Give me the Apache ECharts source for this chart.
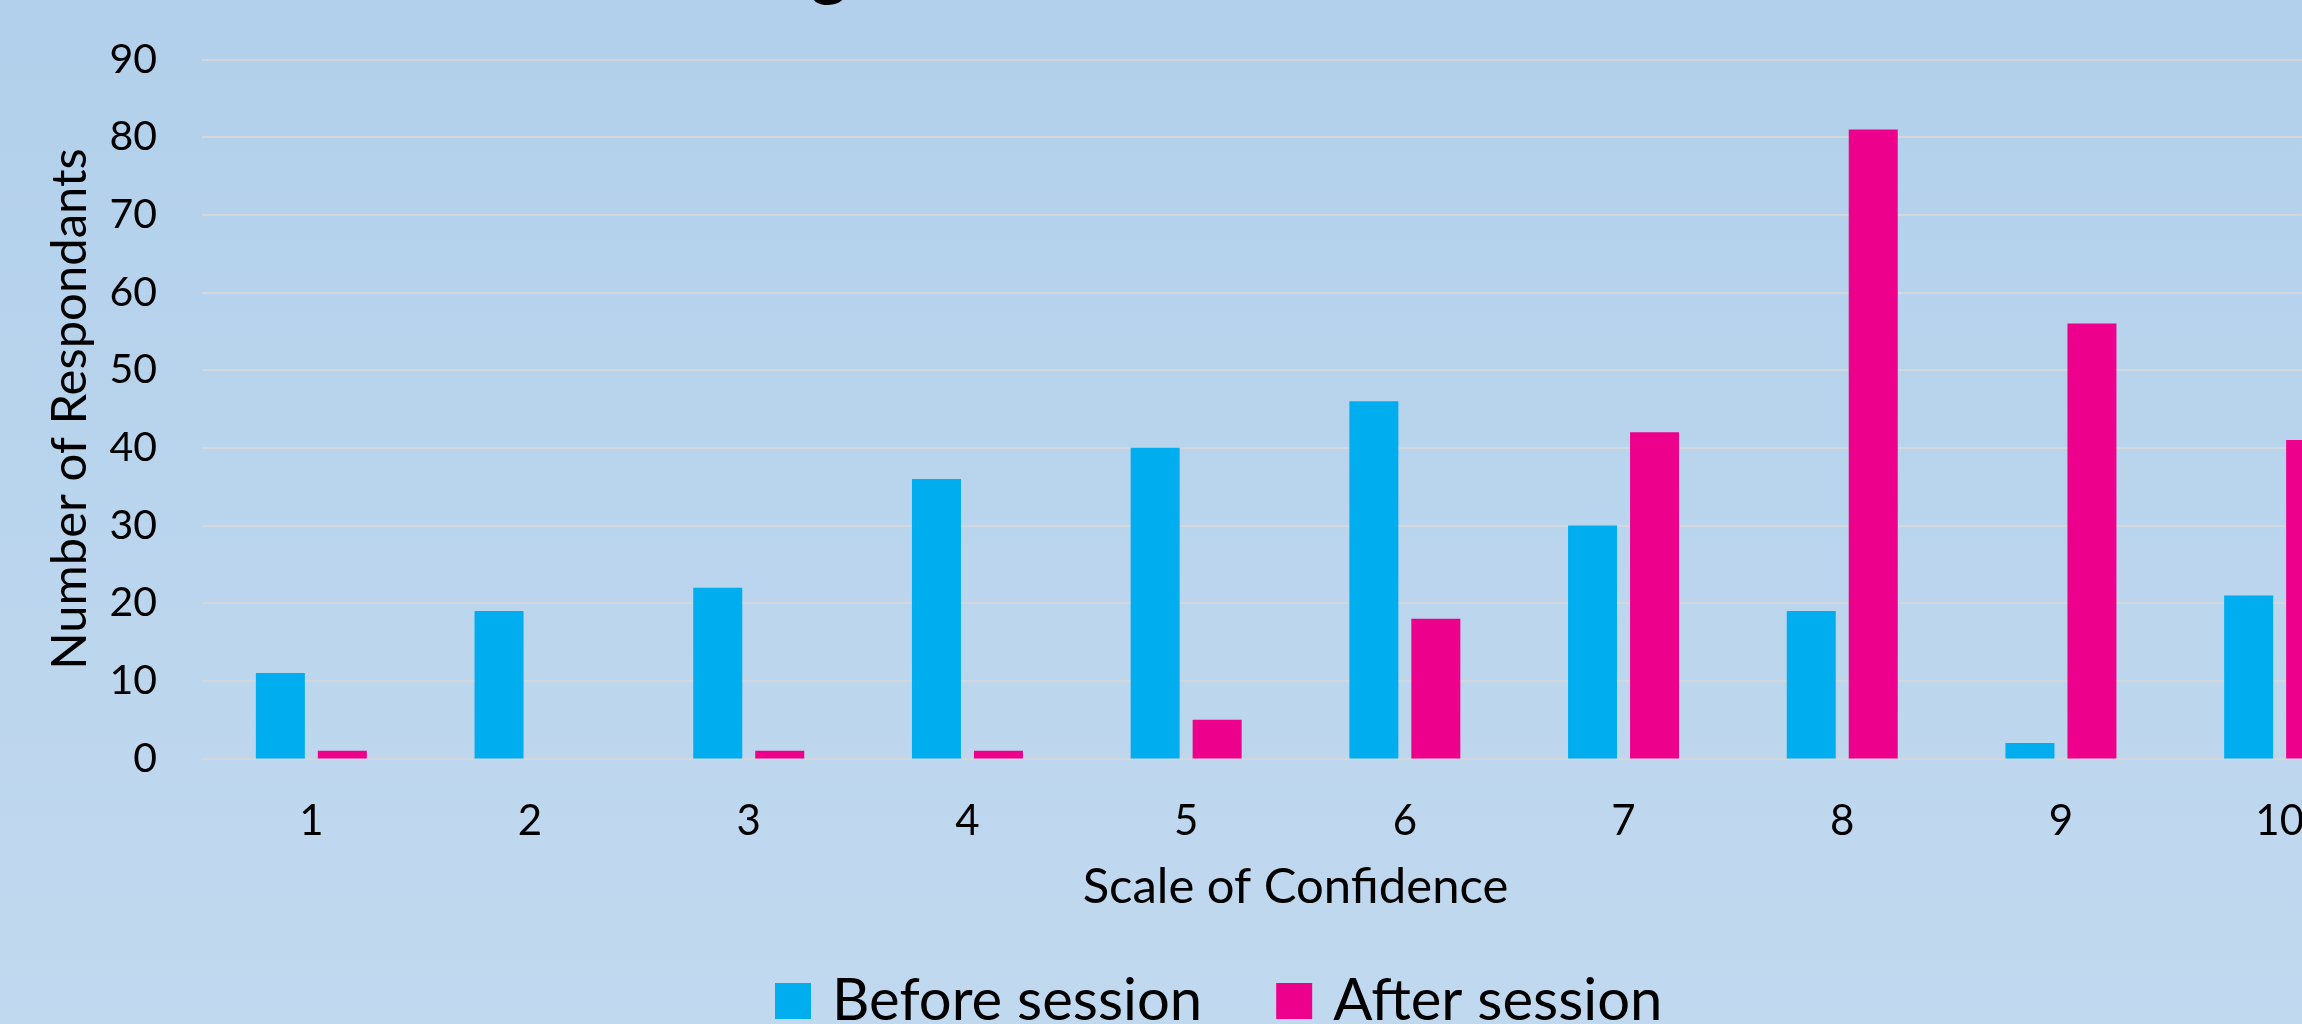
<!DOCTYPE html>
<html>
<head>
<meta charset="utf-8">
<title>Confidence Rating</title>
<script src="https://cdn.jsdelivr.net/npm/echarts@6/dist/echarts.min.js"></script>
<style>
  html, body { margin: 0; padding: 0; overflow: hidden; }
  #chart { width: 2302px; height: 1024px; }
</style>
</head>
<body>
<div id="chart"></div>
<script>
// Confidence scale categories (1 = least confident, 10 = most)
const scaleLabels = ['1', '2', '3', '4', '5', '6', '7', '8', '9', '10'];

// Respondent counts per confidence level
const beforeSession = [11, 19, 22, 36, 40, 46, 30, 19, 2, 21];
const afterSession  = [1, 0, 1, 1, 5, 18, 42, 81, 56, 41];

const seriesNames = ['Before session', 'After session'];

// Value axis range
const yMin = 0;
const yMax = 90;
const yStep = 10;

const FONT = 'Lato';
const gridLine = '#D3D7DC';

const chart = echarts.init(document.getElementById('chart'), null, { renderer: 'canvas' });

chart.setOption({
  animation: false,
  backgroundColor: {
    type: 'linear', x: 0, y: 0, x2: 0, y2: 1,
    colorStops: [
      { offset: 0, color: '#B2D0EB' },
      { offset: 1, color: '#C1D9EF' }
    ]
  },
  title: {
    text: 'Confidence Rating',
    right: 1454,
    top: -68,
    padding: 0,
    textStyle: { fontFamily: FONT, fontSize: 72, lineHeight: 72, fontWeight: 'bold', color: '#000' }
  },
  legend: {
    data: seriesNames,
    left: 775,
    top: 972,
    padding: 0,
    itemWidth: 36,
    itemHeight: 36,
    itemGap: 74,
    icon: 'rect',
    textStyle: { fontFamily: FONT, fontSize: 58, lineHeight: 58, color: '#000', padding: [0, 0, 0, 16] }
  },
  // the plot area runs past the right edge of the canvas
  grid: {
    left: 202,
    right: -87,
    top: 59.5,
    bottom: 265.5,
    containLabel: false,
    outerBoundsMode: 'none'
  },
  xAxis: {
    type: 'category',
    data: scaleLabels,
    name: 'Scale of Confidence',
    nameLocation: 'middle',
    nameGap: 104,
    nameTextStyle: { fontFamily: FONT, fontSize: 49, color: '#000' },
    axisLine: { show: true, lineStyle: { color: gridLine, width: 2 } },
    axisTick: { show: false },
    axisLabel: { fontFamily: FONT, fontSize: 42, color: '#000', margin: 42 },
    splitLine: { show: false }
  },
  yAxis: {
    type: 'value',
    min: yMin,
    max: yMax,
    interval: yStep,
    name: 'Number of Respondants',
    nameLocation: 'middle',
    nameGap: 107,
    nameTextStyle: { fontFamily: FONT, fontSize: 49, color: '#000' },
    axisLine: { show: false },
    axisTick: { show: false },
    axisLabel: { fontFamily: FONT, fontSize: 41, color: '#000', margin: 45 },
    splitLine: { show: true, lineStyle: { color: gridLine, width: 2 } }
  },
  series: [
    {
      name: seriesNames[0],
      type: 'bar',
      data: beforeSession,
      barWidth: 49,
      barGap: '26.5%',
      itemStyle: { color: '#00AEEF' }
    },
    {
      name: seriesNames[1],
      type: 'bar',
      data: afterSession,
      barWidth: 49,
      barGap: '26.5%',
      itemStyle: { color: '#EC008C' }
    }
  ]
});
</script>
</body>
</html>
